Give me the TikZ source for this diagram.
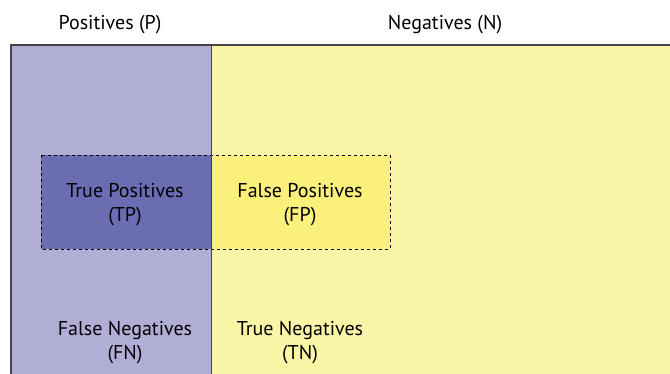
\documentclass[tikz,border=0pt]{standalone}
\usepackage{fontspec}
\setmainfont{PT Sans}
\usepackage{xcolor}
\usetikzlibrary{positioning}

\definecolor{posfill}{HTML}{B1AED6}
\definecolor{negfill}{HTML}{FBF5A7}
\definecolor{tpfill}{HTML}{6B6DB3}
\definecolor{fpfill}{HTML}{FAF07B}
\definecolor{framegray}{HTML}{444444}

\tikzset{
    label/.style={font=\fontsize{20}{24}\selectfont, align=center, inner sep=0pt},
    frame/.style={draw=framegray, line width=1.4pt}
}

\begin{document}
\begin{tikzpicture}[x=1pt, y=-1pt]
        \useasboundingbox (0,0) rectangle (670,374);
        \clip (0,0) rectangle (670,374);
        % the two classes
        \fill[posfill] (11,45) rectangle (211,380);
        \fill[negfill] (211,45) rectangle (680,380);
        % what the classifier calls positive
        \fill[tpfill] (41,155) rectangle (211,249);
        \fill[fpfill] (211,155) rectangle (390,249);
        \draw[dashed, line width=0.8pt] (41,155) rectangle (390,249);
        \draw[frame] (11,380) |- (680,45);
        \draw[frame, line width=1pt] (211,45) -- (211,380);

        \node[label] (pos) at (110,25) {Positives (P)};
        \node[label] (neg) at (445,25) {Negatives (N)};
        \node[label] (tp) at (125,205) {True Positives\\(TP)};
        \node[label] (fp) at (300,205) {False Positives\\(FP)};
        \node[label] (fn) at (125,343) {False Negatives\\(FN)};
        \node[label] (tn) at (300,343) {True Negatives\\(TN)};
    \end{tikzpicture}
\end{document}
